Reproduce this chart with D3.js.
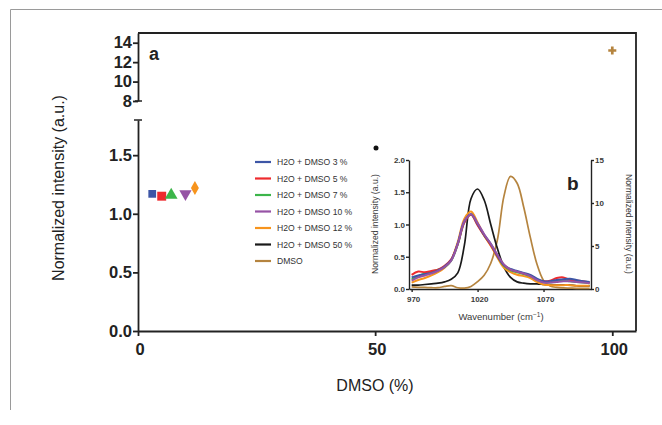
<!DOCTYPE html>
<html><head><meta charset="utf-8">
<script src="https://cdn.jsdelivr.net/npm/d3@7"></script>
<style>body{margin:0;background:#fff}svg{display:block}</style>
</head><body>
<svg id="c" width="662" height="425"></svg>
<script>
// ---------- data ----------
const seriesNames = ["H2O + DMSO 3 %","H2O + DMSO 5 %","H2O + DMSO 7 %","H2O + DMSO 10 %","H2O + DMSO 12 %","H2O + DMSO 50 %","DMSO"];
const seriesColors = ["#3d56a6","#ee2b2e","#3cb54a","#9653a5","#f7941d","#1a1a1a","#b5843f"];
// panel a
const dmsoPct = [3,5,7,10,12];
const relIntensity = [1.17,1.15,1.16,1.17,1.22];
const dmsoPure = [100];
const dmsoPureIntensity = [13.2];
const xTicksA = [0,50,100];
const yTicksLow = [0,0.5,1,1.5];
const yTicksHigh = [8,10,12,14];
// panel b
const wavenumber = [970,975,980,985,990,995,1000,1005,1010,1015,1020,1025,1030,1035,1040,1045,1050,1055,1060,1065,1070,1075,1080,1085,1090,1095,1100,1105];
const s3  = [0.18,0.21,0.23,0.25,0.29,0.35,0.45,0.71,1.05,1.16,1.01,0.84,0.70,0.52,0.37,0.31,0.28,0.25,0.22,0.16,0.12,0.12,0.14,0.15,0.16,0.14,0.12,0.11];
const s5  = [0.22,0.27,0.26,0.28,0.30,0.36,0.46,0.70,1.03,1.15,0.99,0.83,0.68,0.51,0.37,0.30,0.27,0.24,0.21,0.15,0.12,0.13,0.17,0.18,0.14,0.13,0.12,0.10];
const s7  = [0.15,0.20,0.24,0.27,0.30,0.34,0.44,0.69,1.04,1.16,1.00,0.83,0.69,0.51,0.36,0.29,0.26,0.23,0.20,0.14,0.11,0.10,0.12,0.13,0.12,0.11,0.10,0.09];
const s10 = [0.13,0.18,0.21,0.24,0.28,0.34,0.44,0.70,1.05,1.16,1.02,0.85,0.70,0.53,0.38,0.30,0.27,0.24,0.20,0.14,0.10,0.10,0.11,0.12,0.12,0.11,0.10,0.09];
const s12 = [0.10,0.14,0.17,0.21,0.26,0.33,0.45,0.73,1.09,1.20,1.03,0.83,0.67,0.49,0.33,0.26,0.22,0.20,0.17,0.11,0.07,0.06,0.06,0.06,0.06,0.05,0.05,0.05];
const s50 = [0.06,0.06,0.07,0.08,0.09,0.11,0.15,0.25,0.68,1.40,1.55,1.38,1.00,0.63,0.34,0.18,0.11,0.09,0.08,0.08,0.07,0.06,0.06,0.06,0.06,0.05,0.05,0.05];
const sDMSO = [0.25,0.20,0.18,0.15,0.15,0.30,0.40,0.15,0.10,0.30,0.85,1.60,3.00,5.70,10.8,13.1,12.3,9.5,6.0,2.9,1.00,0.35,0.18,0.12,0.10,0.08,0.08,0.08];
const xTicksB = [970,1020,1070];
const yTicksBL = [0,0.5,1,1.5,2];
const yTicksBR = [0,5,10,15];

// ---------- drawing ----------
const svg = d3.select("#c");
const ink = "#222";
const boldF = "'Liberation Sans', Arial, sans-serif";

// outer page frame
svg.append("path").attr("d","M10.5,410 V9.5 H662").attr("fill","none").attr("stroke","#9a9a9a").attr("stroke-width",1);

// ---- panel a ----
const x = d3.scaleLinear([0,105],[138,636]);
const yL = d3.scaleLinear([0,1.8],[331,120]);
const yH = d3.scaleLinear([8,15],[101,33]);

svg.append("path").attr("d",`M${x(0)},${yH(15)} H${x(105)} V${yL(0)}`).attr("fill","none").attr("stroke",ink).attr("stroke-width",1.8);

const gx = svg.append("g").attr("transform",`translate(0,${yL(0)})`)
  .call(d3.axisBottom(x).tickValues(xTicksA).tickFormat(d3.format("d")).tickSize(5).tickSizeOuter(0));
const gyl = svg.append("g").attr("transform",`translate(${x(0)},0)`)
  .call(d3.axisLeft(yL).tickValues(yTicksLow).tickFormat(d3.format(".1f")).tickSize(5).tickSizeOuter(0));
const gyh = svg.append("g").attr("transform",`translate(${x(0)},0)`)
  .call(d3.axisLeft(yH).tickValues(yTicksHigh).tickFormat(d3.format("d")).tickSize(5).tickSizeOuter(0));
[gx,gyl,gyh].forEach(g=>{
  g.selectAll(".domain,line").attr("stroke",ink).attr("stroke-width",1.8);
  g.selectAll("text").attr("font-family",boldF).attr("font-weight","bold").attr("font-size",16.5).attr("fill",ink);
});
gx.selectAll("text").attr("dy","0.95em").attr("dx",1.5);
gyl.selectAll("text").attr("x",-6);
gyh.selectAll("text").attr("x",-6);
svg.append("line").attr("x1",x(0)-3).attr("x2",x(0)+4).attr("y1",yH(8)).attr("y2",yH(8)).attr("stroke",ink).attr("stroke-width",1.5);
svg.append("line").attr("x1",x(0)-4).attr("x2",x(0)+4).attr("y1",yL(1.8)).attr("y2",yL(1.8)).attr("stroke",ink).attr("stroke-width",1.5);

svg.append("text").attr("x",375).attr("y",391).attr("text-anchor","middle")
  .attr("font-family",boldF).attr("font-size",16).attr("fill",ink).text("DMSO (%)");
svg.append("text").attr("transform","translate(64,188) rotate(-90)").attr("text-anchor","middle")
  .attr("font-family",boldF).attr("font-size",16).attr("fill",ink).text("Normalized intensity (a.u.)");
svg.append("text").attr("x",149).attr("y",60).attr("font-family",boldF).attr("font-weight","bold")
  .attr("font-size",18).attr("fill",ink).text("a");

const shapes = [d3.symbolSquare,d3.symbolSquare,d3.symbolTriangle,d3.symbolTriangle,d3.symbolDiamond];
const sizes = [60,80,70,65,55];
dmsoPct.forEach((p,i)=>{
  svg.append("path").attr("d",d3.symbol(shapes[i],sizes[i])())
    .attr("fill",seriesColors[i])
    .attr("transform",`translate(${x(p)},${yL(relIntensity[i])})${i===3?" rotate(180)":""}`);
});
dmsoPure.forEach((p,i)=>{
  svg.append("path").attr("d",d3.symbol(d3.symbolCross,36)())
    .attr("fill",seriesColors[6]).attr("transform",`translate(${x(p)},${yH(dmsoPureIntensity[i])})`);
});

const lg = svg.append("g");
seriesNames.forEach((n,i)=>{
  const yy = 162 + i*16.5;
  lg.append("line").attr("x1",255).attr("x2",271).attr("y1",yy).attr("y2",yy)
    .attr("stroke",seriesColors[i]).attr("stroke-width",2.2);
  lg.append("text").attr("x",277).attr("y",yy+3).attr("font-family",boldF)
    .attr("font-size",8.6).attr("fill","#333").text(n);
});

// ---- panel b ----
const ix = d3.scaleLinear([968,1106],[409,591]);
const iyL = d3.scaleLinear([0,2],[289,160]);
const iyR = d3.scaleLinear([0,15],[289,160]);

const bgx = svg.append("g").attr("transform",`translate(0,${iyL(0)})`)
  .call(d3.axisBottom(ix).tickValues(xTicksB).tickFormat(d3.format("d")).tickSize(3).tickSizeOuter(0));
const bgl = svg.append("g").attr("transform",`translate(${ix.range()[0]},0)`)
  .call(d3.axisLeft(iyL).tickValues(yTicksBL).tickFormat(d3.format(".1f")).tickSize(3).tickSizeOuter(0));
const bgr = svg.append("g").attr("transform",`translate(${ix.range()[1]},0)`)
  .call(d3.axisRight(iyR).tickValues(yTicksBR).tickFormat(d3.format("d")).tickSize(3).tickSizeOuter(0));
[bgx,bgl,bgr].forEach(g=>{
  g.selectAll(".domain,line").attr("stroke",ink).attr("stroke-width",1.4);
  g.selectAll("text").attr("font-family",boldF).attr("font-weight","bold").attr("font-size",8).attr("fill","#3a3a3a");
});
bgl.selectAll("text").attr("x",-4);
bgr.selectAll("text").attr("x",4);
bgx.selectAll("text").attr("dy","0.9em").attr("dx",1.5);

const waterSeries = [s3,s5,s7,s10,s12];
const lineL = d3.line().x((d,i)=>ix(wavenumber[i])).y(d=>iyL(d)).curve(d3.curveCatmullRom.alpha(0.5));
const lineR = d3.line().x((d,i)=>ix(wavenumber[i])).y(d=>iyR(d)).curve(d3.curveCatmullRom.alpha(0.5));
svg.append("path").datum(sDMSO).attr("d",lineR).attr("fill","none").attr("stroke",seriesColors[6]).attr("stroke-width",1.7);
svg.append("path").datum(s50).attr("d",lineL).attr("fill","none").attr("stroke",seriesColors[5]).attr("stroke-width",1.7);
[4,2,1,0,3].forEach(k=>{
  svg.append("path").datum(waterSeries[k]).attr("d",lineL).attr("fill","none")
    .attr("stroke",seriesColors[k]).attr("stroke-width",2);
});

const wl = svg.append("text").attr("x",501).attr("y",320).attr("text-anchor","middle").attr("font-family",boldF)
  .attr("font-size",9.5).attr("fill","#3a3a3a");
wl.append("tspan").text("Wavenumber (cm");
wl.append("tspan").attr("dy",-3).attr("font-size",6.5).text("−1");
wl.append("tspan").attr("dy",3).text(")");
svg.append("text").attr("transform","translate(378,224) rotate(-90)").attr("text-anchor","middle")
  .attr("font-family",boldF).attr("font-size",8.6).attr("fill","#3a3a3a").text("Normalized intensity (a.u.)");
svg.append("text").attr("transform","translate(626,224) rotate(90)").attr("text-anchor","middle")
  .attr("font-family",boldF).attr("font-size",8.6).attr("fill","#3a3a3a").text("Normalized intensity (a.u.)");
svg.append("circle").attr("cx",376).attr("cy",148).attr("r",2.5).attr("fill","#111");
svg.append("text").attr("x",567).attr("y",190).attr("font-family",boldF).attr("font-weight","bold")
  .attr("font-size",19).attr("fill",ink).text("b");
</script>
</body></html>
